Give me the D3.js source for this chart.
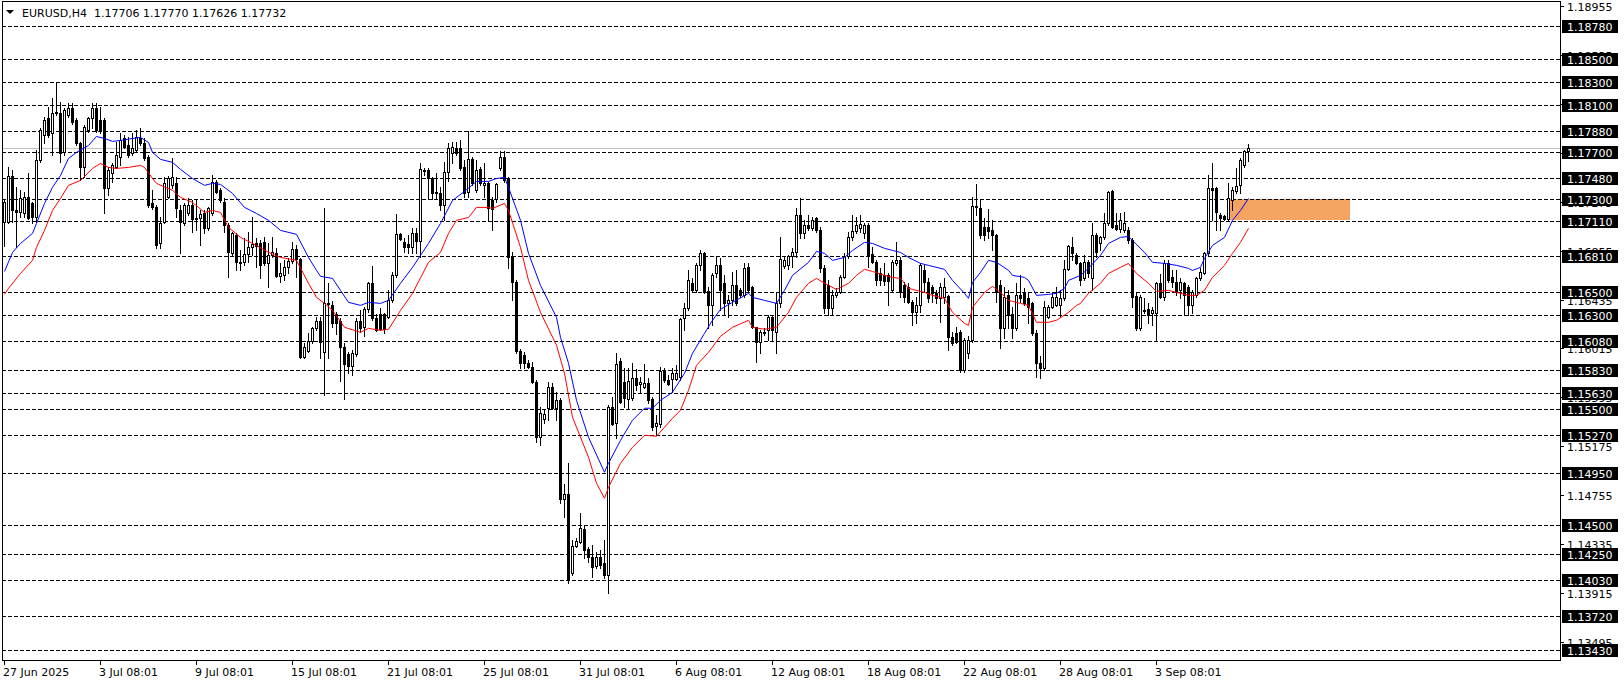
<!DOCTYPE html>
<html><head><meta charset="utf-8">
<script src="https://cdn.jsdelivr.net/npm/d3@7"></script>
<style>
html,body{margin:0;padding:0;background:#fff;}
svg{display:block;}
text{font-family:"DejaVu Sans",sans-serif;font-size:11px;}
</style></head><body>
<svg id="c" width="1624" height="684"></svg>
<script>
const symbolTitle = "EURUSD,H4";
const lastQuote = [1.17706, 1.17770, 1.17626, 1.17732];

const open = [1.17101,1.17101,1.17494,1.17203,1.17186,1.17177,1.17315,1.17263,1.17143,1.17632,
1.17846,1.17992,1.17863,1.18035,1.18035,1.17701,1.18018,1.18078,1.17975,1.17777,
1.17572,1.17889,1.17992,1.18078,1.17975,1.17975,1.17392,1.17520,1.17572,1.17658,
1.17820,1.17760,1.17692,1.17718,1.17820,1.17777,1.17658,1.17263,1.17229,1.16920,
1.17101,1.17315,1.17418,1.17435,1.17203,1.17092,1.17177,1.17246,1.17135,1.17135,
1.17177,1.17049,1.17177,1.17443,1.17375,1.17272,1.17075,1.16835,1.16989,1.16758,
1.16758,1.16826,1.16886,1.16920,1.16920,1.16929,1.16749,1.16818,1.16835,1.16638,
1.16646,1.16715,1.16766,1.16869,1.16783,1.15944,1.15995,1.16081,1.16192,1.16252,
1.15987,1.16406,1.16389,1.16312,1.16252,1.16029,1.15970,1.15867,1.15970,1.16252,
1.16201,1.16355,1.16578,1.16278,1.16312,1.16312,1.16286,1.16432,1.16646,1.16998,
1.16929,1.16912,1.16886,1.17006,1.16938,1.17546,1.17546,1.17477,1.17358,1.17349,
1.17246,1.17529,1.17692,1.17735,1.17735,1.17572,1.17358,1.17641,1.17375,1.17555,
1.17418,1.17435,1.17289,1.17298,1.17563,1.17658,1.17477,1.16809,1.16586,1.15995,
1.15961,1.15892,1.15858,1.15729,1.15258,1.15413,1.15507,1.15687,1.15507,1.15575,
1.14727,1.14770,1.14093,1.14324,1.14358,1.14470,1.14298,1.14230,1.14153,1.14230,
1.14178,1.14076,1.15515,1.15378,1.15909,1.15729,1.15584,1.15592,1.15764,1.15712,
1.15687,1.15721,1.15584,1.15352,1.15370,1.15824,1.15747,1.15755,1.15755,1.15772,
1.16278,1.16363,1.16578,1.16518,1.16732,1.16835,1.16509,1.16389,1.16663,1.16732,
1.16578,1.16406,1.16432,1.16560,1.16518,1.16475,1.16715,1.16543,1.16201,1.16072,
1.16149,1.16175,1.16286,1.16158,1.16406,1.16723,1.16732,1.16809,1.16843,1.17160,
1.17006,1.17075,1.17049,1.17135,1.17032,1.16706,1.16560,1.16363,1.16475,1.16500,
1.16629,1.16809,1.16972,1.17023,1.17049,1.17006,1.17075,1.16826,1.16758,1.16663,
1.16646,1.16646,1.16518,1.16749,1.16775,1.16560,1.16543,1.16415,1.16329,1.16389,
1.16689,1.16586,1.16543,1.16492,1.16449,1.16458,1.16466,1.16115,1.16149,1.16158,
1.15832,1.15978,1.16089,1.17237,1.17220,1.17058,1.17058,1.17032,1.16989,1.16560,
1.16192,1.16475,1.16312,1.16192,1.16475,1.16492,1.16449,1.16406,1.16149,1.15892,
1.15849,1.16286,1.16372,1.16389,1.16389,1.16449,1.16698,1.16886,1.16818,1.16749,
1.16620,1.16758,1.16620,1.16989,1.16920,1.16972,1.17092,1.17366,1.17075,1.17040,
1.17032,1.17032,1.16946,1.16466,1.16192,1.16346,1.16355,1.16321,1.16321,1.16578,
1.16458,1.16749,1.16629,1.16586,1.16518,1.16578,1.16543,1.16389,1.16475,1.16620,
1.16663,1.16835,1.17392,1.17392,1.17160,1.17152,1.17126,1.17289,1.17366,1.17418,
1.17589,1.17706];

const high = [1.17289,1.17572,1.17546,1.17401,1.17375,1.17358,1.17520,1.17272,1.17718,1.17906,
1.18001,1.18086,1.18163,1.18300,1.18129,1.18078,1.18120,1.18120,1.17992,1.17786,
1.17932,1.18001,1.18120,1.18120,1.18086,1.17992,1.17572,1.17606,1.17786,1.17863,
1.17846,1.17829,1.17863,1.17889,1.17906,1.17820,1.17675,1.17375,1.17246,1.17143,
1.17486,1.17494,1.17649,1.17486,1.17246,1.17263,1.17306,1.17289,1.17289,1.17203,
1.17203,1.17229,1.17503,1.17460,1.17392,1.17306,1.17092,1.17015,1.17006,1.16860,
1.16963,1.17015,1.17143,1.16963,1.16946,1.16972,1.16920,1.16972,1.16878,1.16749,
1.16775,1.16792,1.16929,1.16903,1.16792,1.16064,1.16149,1.16201,1.16286,1.16286,
1.17220,1.16578,1.16423,1.16329,1.16278,1.16064,1.15987,1.16004,1.16278,1.16346,
1.16372,1.16586,1.16723,1.16312,1.16363,1.16321,1.16518,1.16672,1.17169,1.17006,
1.16963,1.16989,1.17049,1.17049,1.17606,1.17563,1.17563,1.17486,1.17520,1.17401,
1.17615,1.17777,1.17786,1.17786,1.17803,1.17632,1.17880,1.17658,1.17632,1.17572,
1.17606,1.17443,1.17315,1.17435,1.17709,1.17709,1.17486,1.16843,1.16603,1.16012,
1.15987,1.15918,1.15901,1.15747,1.15515,1.15498,1.15729,1.15721,1.15644,1.15592,
1.14855,1.15035,1.14375,1.14392,1.14607,1.14504,1.14315,1.14332,1.14272,1.14290,
1.14375,1.15532,1.15601,1.15978,1.15935,1.15849,1.15849,1.15892,1.15841,1.15772,
1.15884,1.15764,1.15601,1.15447,1.15858,1.15849,1.15789,1.15849,1.15875,1.16278,
1.16406,1.16689,1.16620,1.16749,1.16860,1.16843,1.16543,1.16663,1.16800,1.16792,
1.16646,1.16475,1.16672,1.16689,1.16535,1.16749,1.16749,1.16552,1.16201,1.16175,
1.16192,1.16304,1.16304,1.16500,1.16972,1.16800,1.16818,1.16878,1.17220,1.17306,
1.17118,1.17160,1.17143,1.17143,1.17058,1.16732,1.16603,1.16518,1.16535,1.16646,
1.16835,1.17015,1.17160,1.17143,1.17160,1.17092,1.17092,1.16886,1.16775,1.16706,
1.16749,1.16663,1.16775,1.16929,1.16800,1.16586,1.16578,1.16432,1.16458,1.16749,
1.16732,1.16620,1.16560,1.16518,1.16578,1.16620,1.16475,1.16158,1.16201,1.16175,
1.16107,1.16124,1.17315,1.17426,1.17289,1.17135,1.17212,1.17118,1.16998,1.16603,
1.16543,1.16518,1.16372,1.16578,1.16646,1.16535,1.16492,1.16415,1.16175,1.15952,
1.16423,1.16389,1.16500,1.16543,1.16518,1.16775,1.16903,1.16972,1.16835,1.16758,
1.16818,1.16775,1.17092,1.17006,1.16980,1.17177,1.17366,1.17375,1.17177,1.17177,
1.17186,1.17058,1.16963,1.16492,1.16475,1.16449,1.16406,1.16372,1.16586,1.16655,
1.16775,1.16775,1.16689,1.16689,1.16620,1.16586,1.16560,1.16518,1.16629,1.16706,
1.16843,1.17503,1.17606,1.17401,1.17177,1.17160,1.17435,1.17401,1.17563,1.17649,
1.17718,1.17770];

const low = [1.16895,1.17092,1.17101,1.16886,1.17143,1.17143,1.17126,1.17092,1.17101,1.17615,
1.17777,1.17829,1.17675,1.18018,1.17615,1.17675,1.18001,1.17941,1.17760,1.17460,
1.17486,1.17872,1.17906,1.17872,1.17863,1.17177,1.17332,1.17443,1.17563,1.17589,
1.17735,1.17658,1.17675,1.17701,1.17760,1.17632,1.17229,1.17212,1.16878,1.16878,
1.17092,1.17306,1.17392,1.17143,1.16834,1.17075,1.17160,1.17015,1.17032,1.16903,
1.17006,1.17032,1.17160,1.17349,1.17272,1.17015,1.16629,1.16818,1.16689,1.16689,
1.16732,1.16758,1.16818,1.16715,1.16620,1.16732,1.16543,1.16800,1.16629,1.16586,
1.16603,1.16663,1.16749,1.16629,1.15935,1.15935,1.15987,1.16064,1.16175,1.15935,
1.15618,1.15935,1.16201,1.16141,1.15738,1.15584,1.15806,1.15789,1.15952,1.16158,
1.16124,1.16329,1.16261,1.16166,1.16175,1.16149,1.16278,1.16415,1.16629,1.16946,
1.16843,1.16835,1.16835,1.16835,1.16800,1.17503,1.17306,1.17298,1.17306,1.17203,
1.17118,1.17452,1.17606,1.17675,1.17546,1.17315,1.17315,1.17418,1.17358,1.17418,
1.17315,1.17118,1.17032,1.17272,1.17546,1.17443,1.16706,1.16432,1.15978,1.15849,
1.15849,1.15849,1.15721,1.15215,1.15190,1.15378,1.15404,1.15498,1.15404,1.14692,
1.14572,1.14007,1.14076,1.14315,1.14350,1.14221,1.14187,1.14058,1.14135,1.14135,
1.14050,1.13921,1.15361,1.15250,1.15549,1.15515,1.15507,1.15575,1.15661,1.15635,
1.15678,1.15549,1.15318,1.15275,1.15344,1.15729,1.15704,1.15644,1.15747,1.15747,
1.16175,1.16346,1.16500,1.16500,1.16689,1.16492,1.16192,1.16218,1.16629,1.16346,
1.16304,1.16286,1.16389,1.16389,1.16458,1.16458,1.16500,1.16192,1.15901,1.15978,
1.16132,1.16089,1.16089,1.15978,1.16372,1.16706,1.16698,1.16715,1.16800,1.16963,
1.16963,1.17032,1.17032,1.17015,1.16672,1.16321,1.16304,1.16304,1.16458,1.16492,
1.16620,1.16792,1.16946,1.17006,1.17015,1.16963,1.16715,1.16749,1.16560,1.16560,
1.16560,1.16389,1.16500,1.16732,1.16458,1.16415,1.16406,1.16218,1.16235,1.16329,
1.16500,1.16415,1.16415,1.16406,1.16244,1.16406,1.16004,1.16047,1.16064,1.15815,
1.15815,1.15935,1.16072,1.17160,1.16963,1.16946,1.16963,1.16860,1.16415,1.16021,
1.16107,1.16192,1.16107,1.16175,1.16415,1.16389,1.16235,1.16132,1.15772,1.15764,
1.15832,1.16278,1.16363,1.16380,1.16286,1.16432,1.16689,1.16775,1.16740,1.16560,
1.16603,1.16629,1.16518,1.16800,1.16860,1.16955,1.17075,1.17049,1.17032,1.17015,
1.17015,1.16920,1.16372,1.16175,1.16175,1.16321,1.16235,1.16218,1.16089,1.16449,
1.16432,1.16586,1.16543,1.16475,1.16449,1.16304,1.16304,1.16321,1.16458,1.16603,
1.16655,1.16818,1.17118,1.17032,1.17032,1.17118,1.17118,1.17203,1.17349,1.17349,
1.17572,1.17626];

const close = [1.17272,1.17494,1.17203,1.17186,1.17306,1.17315,1.17135,1.17143,1.17632,1.17889,
1.17975,1.17846,1.18035,1.18043,1.17692,1.18060,1.18078,1.17958,1.17777,1.17572,
1.17915,1.17992,1.18078,1.17889,1.17889,1.17392,1.17546,1.17589,1.17675,1.17803,
1.17743,1.17675,1.17735,1.17829,1.17777,1.17649,1.17246,1.17229,1.16903,1.17092,
1.17435,1.17477,1.17486,1.17220,1.17101,1.17246,1.17246,1.17126,1.17126,1.17169,
1.17049,1.17220,1.17443,1.17358,1.17289,1.17075,1.16843,1.17006,1.16758,1.16750,
1.16826,1.16886,1.16912,1.16895,1.16732,1.16749,1.16818,1.16843,1.16638,1.16663,
1.16715,1.16766,1.16869,1.16783,1.15944,1.16029,1.16081,1.16192,1.16252,1.16072,
1.16406,1.16398,1.16235,1.16235,1.16029,1.15884,1.15867,1.15978,1.16252,1.16192,
1.16355,1.16578,1.16278,1.16175,1.16184,1.16184,1.16432,1.16646,1.16998,1.16955,
1.16886,1.16886,1.17006,1.16938,1.17555,1.17537,1.17477,1.17349,1.17349,1.17246,
1.17529,1.17735,1.17743,1.17692,1.17563,1.17349,1.17641,1.17435,1.17546,1.17435,
1.17435,1.17220,1.17212,1.17426,1.17658,1.17460,1.16800,1.16586,1.15995,1.15892,
1.15892,1.15858,1.15729,1.15258,1.15464,1.15455,1.15687,1.15507,1.15575,1.14727,
1.14770,1.14033,1.14324,1.14367,1.14478,1.14290,1.14230,1.14144,1.14230,1.14161,
1.14076,1.15515,1.15370,1.15884,1.15558,1.15592,1.15738,1.15764,1.15704,1.15729,
1.15721,1.15575,1.15344,1.15378,1.15824,1.15747,1.15712,1.15806,1.15806,1.16269,
1.16363,1.16603,1.16518,1.16732,1.16835,1.16500,1.16389,1.16646,1.16732,1.16518,
1.16406,1.16432,1.16560,1.16406,1.16475,1.16706,1.16518,1.16201,1.16072,1.16158,
1.16158,1.16286,1.16175,1.16406,1.16783,1.16775,1.16809,1.16843,1.17160,1.17006,
1.17075,1.17049,1.17118,1.17032,1.16706,1.16363,1.16363,1.16475,1.16500,1.16629,
1.16809,1.16972,1.17023,1.17075,1.17084,1.17075,1.16818,1.16758,1.16603,1.16603,
1.16595,1.16595,1.16758,1.16775,1.16500,1.16458,1.16415,1.16329,1.16389,1.16732,
1.16586,1.16449,1.16492,1.16449,1.16543,1.16543,1.16115,1.16064,1.16072,1.15832,
1.16089,1.16089,1.17237,1.17229,1.16989,1.16989,1.17023,1.16989,1.16500,1.16192,
1.16458,1.16304,1.16192,1.16475,1.16449,1.16406,1.16372,1.16149,1.15892,1.15849,
1.16372,1.16372,1.16458,1.16458,1.16449,1.16698,1.16895,1.16835,1.16749,1.16603,
1.16758,1.16663,1.16989,1.16843,1.16972,1.17092,1.17358,1.17058,1.17040,1.17118,
1.17092,1.16946,1.16458,1.16192,1.16458,1.16338,1.16304,1.16346,1.16578,1.16458,
1.16749,1.16603,1.16586,1.16500,1.16586,1.16475,1.16389,1.16500,1.16620,1.16672,
1.16835,1.17392,1.17375,1.17186,1.17135,1.17126,1.17306,1.17375,1.17409,1.17632,
1.17709,1.17732];

const dateTickBars = [0,24,48,72,96,120,144,168,192,216,240,264,288];
const dateLabels = ["27 Jun 2025","3 Jul 08:01","9 Jul 08:01","15 Jul 08:01","21 Jul 08:01","25 Jul 08:01","31 Jul 08:01","6 Aug 08:01","12 Aug 08:01","18 Aug 08:01","22 Aug 08:01","28 Aug 08:01","3 Sep 08:01"];

const levels = [1.18780,1.18500,1.18300,1.18100,1.17880,1.17700,1.17480,1.17300,1.17110,1.16810,1.16500,1.16300,1.16080,1.15830,1.15630,1.15500,1.15270,1.14950,1.14500,1.14250,1.14030,1.13720,1.13430];
const axisTicks = [1.18955,1.18535,1.18115,1.17695,1.17275,1.16855,1.16435,1.16015,1.15595,1.15175,1.14755,1.14335,1.13915,1.13495];

const maBlueBars = [0,2,4,7,8,10,12,14,16,18,21,23,25,27,29,32,34,36,37,39,42,44,47,50,52,54,57,60,63,66,69,73,76,78,79,82,84,86,89,91,94,96,99,102,104,106,109,112,115,118,121,123,125,126,129,131,134,138,139,141,143,146,150,151,154,157,160,162,164,167,170,172,175,177,179,182,186,187,190,193,195,197,201,203,205,207,210,212,215,217,220,222,224,226,229,231,235,237,240,241,242,244,246,248,251,252,255,256,258,261,263,265,266,269,271,274,276,279,281,282,285,287,290,293,296,297,299,300,302,305,307,309,311];
const maBlueVals = [1.16680,1.16843,1.16920,1.17006,1.17092,1.17263,1.17401,1.17503,1.17649,1.17701,
1.17760,1.17837,1.17820,1.17795,1.17803,1.17820,1.17829,1.17786,1.17701,1.17641,
1.17615,1.17555,1.17477,1.17418,1.17435,1.17426,1.17349,1.17229,1.17177,1.17118,
1.17032,1.16998,1.16800,1.16689,1.16638,1.16620,1.16518,1.16415,1.16389,1.16415,
1.16406,1.16432,1.16578,1.16715,1.16818,1.16920,1.17092,1.17289,1.17366,1.17452,
1.17452,1.17477,1.17486,1.17401,1.17118,1.16835,1.16560,1.16286,1.16115,1.15892,
1.15575,1.15258,1.14958,1.15035,1.15232,1.15404,1.15507,1.15507,1.15575,1.15644,
1.15806,1.15978,1.16149,1.16261,1.16355,1.16415,1.16492,1.16458,1.16432,1.16406,
1.16518,1.16646,1.16758,1.16852,1.16835,1.16775,1.16800,1.16860,1.16929,1.16920,
1.16878,1.16860,1.16843,1.16800,1.16749,1.16732,1.16698,1.16603,1.16492,1.16449,
1.16586,1.16672,1.16775,1.16758,1.16689,1.16646,1.16629,1.16603,1.16475,1.16483,
1.16492,1.16535,1.16603,1.16646,1.16706,1.16818,1.16920,1.16972,1.16980,1.16946,
1.16843,1.16758,1.16749,1.16732,1.16706,1.16689,1.16715,1.16792,1.16903,1.16972,
1.17118,1.17203,1.17306];

const maRedBars = [0,1,4,7,8,10,12,14,16,19,22,24,26,28,31,34,35,37,38,42,44,47,50,52,54,56,59,63,66,69,73,76,78,80,82,85,89,91,94,96,99,102,106,109,111,113,116,118,121,122,125,126,129,131,134,138,140,142,146,148,150,151,154,157,160,163,165,167,169,171,173,176,179,182,186,187,190,193,196,198,201,203,206,208,211,213,215,217,220,222,224,226,230,232,235,237,240,241,242,245,247,249,251,254,256,258,261,263,266,268,269,271,274,276,279,281,283,286,288,291,293,296,298,300,302,305,307,309,311];
const maRedVals = [1.16483,1.16535,1.16663,1.16775,1.16886,1.17032,1.17203,1.17306,1.17418,1.17460,
1.17563,1.17606,1.17572,1.17563,1.17572,1.17589,1.17572,1.17477,1.17435,1.17375,
1.17315,1.17272,1.17186,1.17203,1.17186,1.17058,1.16972,1.16903,1.16843,1.16800,
1.16775,1.16578,1.16458,1.16406,1.16346,1.16201,1.16158,1.16192,1.16175,1.16184,
1.16346,1.16492,1.16758,1.16843,1.17006,1.17118,1.17143,1.17229,1.17229,1.17220,
1.17263,1.17203,1.16886,1.16603,1.16329,1.16047,1.15806,1.15430,1.15087,1.14864,
1.14735,1.14829,1.15035,1.15172,1.15275,1.15267,1.15344,1.15421,1.15490,1.15661,
1.15875,1.15987,1.16124,1.16201,1.16261,1.16201,1.16184,1.16201,1.16329,1.16458,
1.16578,1.16620,1.16560,1.16526,1.16578,1.16646,1.16698,1.16680,1.16646,1.16629,
1.16620,1.16535,1.16500,1.16475,1.16449,1.16329,1.16235,1.16218,1.16372,1.16500,
1.16552,1.16500,1.16432,1.16406,1.16389,1.16244,1.16244,1.16261,1.16329,1.16389,
1.16406,1.16492,1.16578,1.16663,1.16715,1.16749,1.16663,1.16578,1.16509,1.16518,
1.16500,1.16475,1.16475,1.16518,1.16629,1.16732,1.16835,1.16929,1.17049];

const zoneBars = [305.75, 336.6];
const zonePrices = [1.17115, 1.17300];

// ---------- drawing ----------
const W = 1624, H = 684;
const X0 = 2, X1 = 1560, Y0 = 1, Y1 = 660;
const svg = d3.select("#c");
svg.append("rect").attr("width", W).attr("height", H).attr("fill", "#fff");

const x = d3.scaleLinear().domain([-0.5, 389]).range([X0, X1]);
const y = d3.scaleLinear().domain([1.1343, 1.1878]).range([650, 26]);
const px = v => Math.round(x(v));
const py = v => Math.round(y(v));
const fmt = d3.format(".5f");

svg.append("defs").append("clipPath").attr("id", "clip")
  .append("rect").attr("x", X0 + 1).attr("y", Y0 + 1).attr("width", X1 - X0 - 1).attr("height", Y1 - Y0 - 1);
const plot = svg.append("g").attr("clip-path", "url(#clip)");

// zone rectangle
plot.append("rect")
  .attr("x", px(zoneBars[0])).attr("y", py(zonePrices[1]))
  .attr("width", px(zoneBars[1]) - px(zoneBars[0]))
  .attr("height", py(zonePrices[0]) - py(zonePrices[1]))
  .attr("fill", "#F4A460");

// dashed levels
plot.append("g").selectAll("line").data(levels).join("line")
  .attr("x1", X0).attr("x2", X1)
  .attr("y1", d => py(d) + 0.5).attr("y2", d => py(d) + 0.5)
  .attr("stroke", "#000").attr("stroke-width", 1)
  .attr("stroke-dasharray", "4,2").attr("shape-rendering", "crispEdges");

// current price line
plot.append("line")
  .attr("x1", X0).attr("x2", X1)
  .attr("y1", py(lastQuote[3]) + 0.5).attr("y2", py(lastQuote[3]) + 0.5)
  .attr("stroke", "#C0C0C0").attr("shape-rendering", "crispEdges");

// candles
const idx = d3.range(open.length);
const cg = plot.append("g").attr("shape-rendering", "crispEdges");
cg.selectAll("line.w").data(idx).join("line").attr("class", "w")
  .attr("x1", i => px(i) + 0.5).attr("x2", i => px(i) + 0.5)
  .attr("y1", i => py(high[i])).attr("y2", i => py(low[i]) + 1)
  .attr("stroke", "#000");
idx.forEach(i => {
  const cx = px(i);
  const top = py(Math.max(open[i], close[i]));
  const bot = py(Math.min(open[i], close[i]));
  if (close[i] >= open[i]) {
    if (bot - top >= 1) {
      cg.append("rect").attr("x", cx - 0.5).attr("y", top + 0.5)
        .attr("width", 2).attr("height", bot - top)
        .attr("fill", "#fff").attr("stroke", "#000");
    } else {
      cg.append("rect").attr("x", cx - 1).attr("y", top).attr("width", 3).attr("height", 1).attr("fill", "#000");
    }
  } else {
    cg.append("rect").attr("x", cx - 1).attr("y", top)
      .attr("width", 3).attr("height", Math.max(bot - top + 1, 1))
      .attr("fill", "#000");
  }
});

// moving averages
const line = d3.line().x(d => x(d[0]) + 0.5).y(d => y(d[1]) + 0.5);
plot.append("path").datum(maRedBars.map((b, k) => [b, maRedVals[k]]))
  .attr("d", line).attr("fill", "none").attr("stroke", "#FF0000").attr("stroke-width", 1);
plot.append("path").datum(maBlueBars.map((b, k) => [b, maBlueVals[k]]))
  .attr("d", line).attr("fill", "none").attr("stroke", "#0000FF").attr("stroke-width", 1);

// title
svg.append("path").attr("d", "M6,10 L14,10 L10,14 Z").attr("fill", "#000");
svg.append("text").attr("x", 22).attr("y", 17).attr("fill", "#000")
  .text(symbolTitle + "\u00a0\u00a0" + lastQuote.map(fmt).join(" "));

// frame
svg.append("rect").attr("x", X0 + 0.5).attr("y", Y0 + 0.5)
  .attr("width", X1 - X0).attr("height", Y1 - Y0)
  .attr("fill", "none").attr("stroke", "#000").attr("shape-rendering", "crispEdges");

// right axis ticks
const ax = svg.append("g");
ax.selectAll("line").data(axisTicks).join("line")
  .attr("x1", X1 + 1).attr("x2", X1 + 4)
  .attr("y1", d => py(d) + 0.5).attr("y2", d => py(d) + 0.5)
  .attr("stroke", "#000").attr("shape-rendering", "crispEdges");
ax.selectAll("text").data(axisTicks).join("text")
  .attr("x", 1567).attr("y", d => py(d) + 4.5).attr("fill", "#000").text(fmt);

// level labels
const lg = svg.append("g");
lg.selectAll("rect").data(levels).join("rect")
  .attr("x", 1562).attr("y", d => py(d) - 6).attr("width", 56).attr("height", 13)
  .attr("fill", "#000");
lg.selectAll("text").data(levels).join("text")
  .attr("x", 1567).attr("y", d => py(d) + 4.5).attr("fill", "#fff").text(fmt);

// bottom axis
const bx = svg.append("g");
bx.selectAll("line").data(dateTickBars).join("line")
  .attr("x1", d => px(d) + 0.5).attr("x2", d => px(d) + 0.5)
  .attr("y1", Y1 + 1).attr("y2", Y1 + 5)
  .attr("stroke", "#000").attr("shape-rendering", "crispEdges");
bx.selectAll("text").data(dateTickBars).join("text")
  .attr("x", d => px(d) - 1).attr("y", 676).attr("fill", "#000")
  .text((d, k) => dateLabels[k]);
</script>
</body></html>
